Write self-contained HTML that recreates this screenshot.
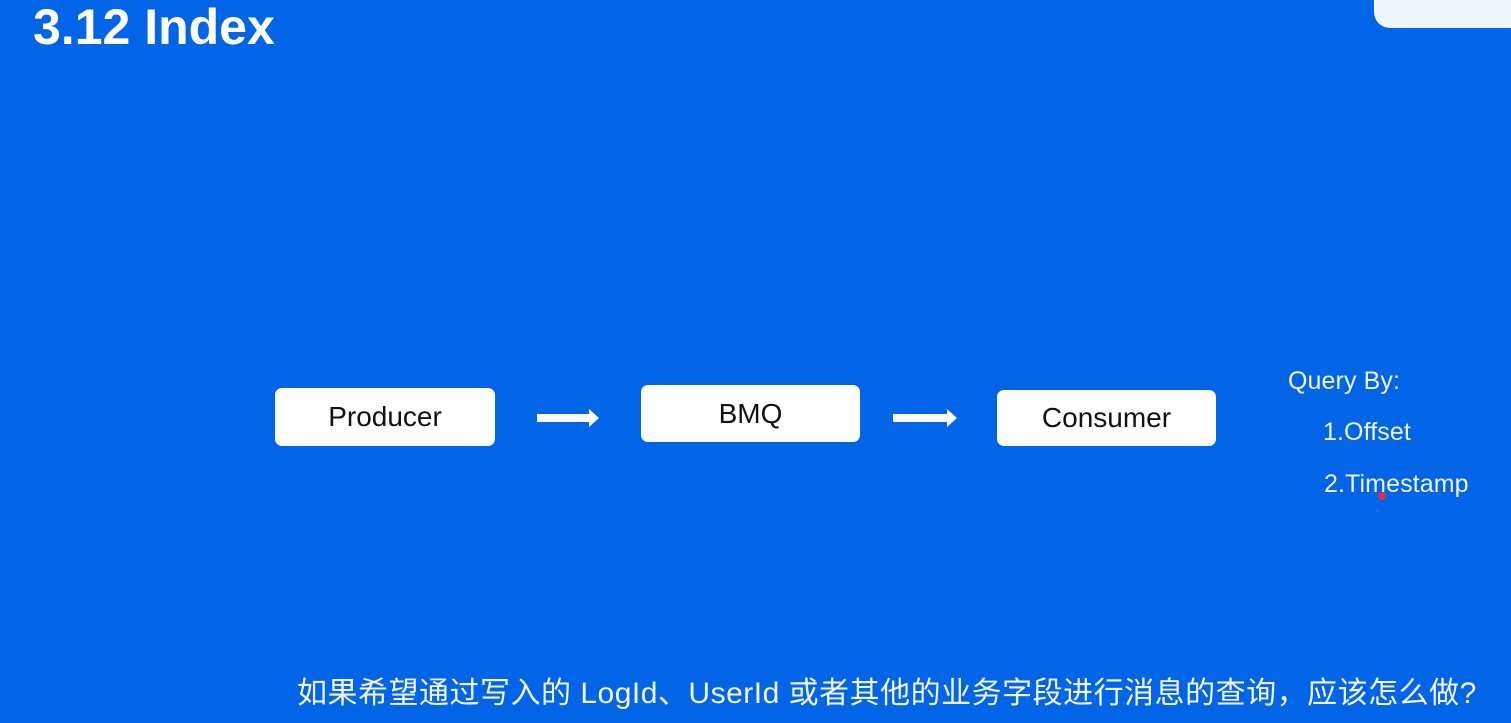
<!DOCTYPE html>
<html><head><meta charset="utf-8"><style>
body{margin:0;width:1511px;height:723px;background:#0264e6;position:relative;overflow:hidden;font-family:"Liberation Sans","Noto Sans CJK SC",sans-serif;color:#fff}
.t{position:absolute;left:33px;top:0px;font-size:50px;font-weight:bold;line-height:54px;letter-spacing:0px}
.tr{position:absolute;left:1374px;top:-20px;width:160px;height:48px;background:#eef6fb;border-radius:16px}
.b{position:absolute;background:#fff;border-radius:7px;color:#111;font-size:28px;display:flex;align-items:center;justify-content:center}
.q{position:absolute;font-size:25px;color:#f0f4ff;letter-spacing:0.1px}
.bt{position:absolute;left:297px;top:668px;font-size:30px;white-space:nowrap;color:#f4f6ff;letter-spacing:0.5px}
</style></head><body>
<div class="t">3.12 Index</div>
<div class="tr"></div>
<div class="b" style="left:275px;top:388px;width:220px;height:58px">Producer</div>
<div class="b" style="left:641px;top:385px;width:219px;height:57px">BMQ</div>
<div class="b" style="left:997px;top:390px;width:219px;height:56px">Consumer</div>
<svg style="position:absolute;left:0;top:0" width="1511" height="723">
<polygon points="537,414 589,414 589,409 599,418 589,427 589,422 537,422" fill="#fff"/>
<polygon points="893,414 947,414 947,409 957,418 947,427 947,422 893,422" fill="#fff"/>
<circle cx="1382" cy="496" r="4" fill="#e03040"/>
</svg>
<div class="q" style="left:1288px;top:367px">Query By:</div>
<div class="q" style="left:1323px;top:418px">1.Offset</div>
<div class="q" style="left:1324px;top:470px">2.Timestamp</div>
<div class="bt">如果希望通过写入的 LogId、UserId 或者其他的业务字段进行消息的查询，应该怎么做?</div>
</body></html>
